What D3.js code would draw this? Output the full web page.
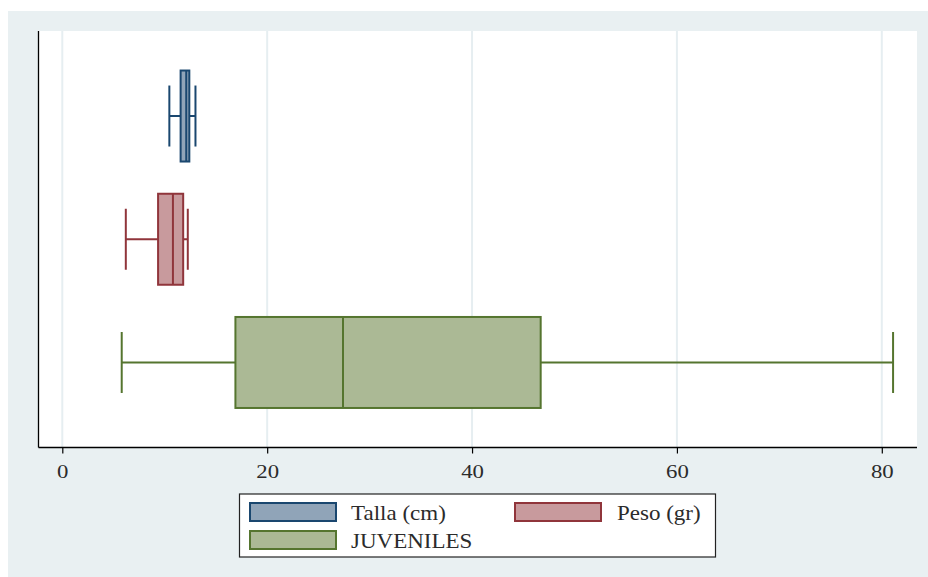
<!DOCTYPE html>
<html>
<head>
<meta charset="utf-8">
<script src="https://cdn.jsdelivr.net/npm/d3@7"></script>
<style>
  html, body { margin: 0; padding: 0; background: #fff; }
  svg { display: block; }
  text { font-family: "Liberation Serif", "Times New Roman", serif; fill: #2b2b2b; }
</style>
</head>
<body>
<div id="chart"></div>
<script>
// box plot data (min, q1, median, q3, max)
const series = ["Talla (cm)", "Peso (gr)", "JUVENILES"];
const mins = [10.45, 6.2, 5.8];
const q1s = [11.55, 9.35, 16.9];
const medians = [12.1, 10.8, 27.4];
const q3s = [12.4, 11.8, 46.7];
const maxs = [13.0, 12.25, 81.1];
const strokes = ["#1a476f", "#90353b", "#55752f"];
const fills = ["#90a4b8", "#c89a9d", "#abb995"];
const xTicks = [0, 20, 40, 60, 80];

const width = 928, height = 577;
const bg = "#e9f0f2";

const svg = d3.select("#chart").append("svg")
    .attr("width", width)
    .attr("height", height);

// outer graph region
svg.append("rect")
    .attr("x", 8).attr("y", 11)
    .attr("width", width - 8).attr("height", height - 11)
    .attr("fill", bg);

const plot = { left: 38.5, right: 917, top: 31, bottom: 447.5 };

svg.append("rect")
    .attr("x", plot.left).attr("y", plot.top)
    .attr("width", plot.right - plot.left).attr("height", plot.bottom - plot.top)
    .attr("fill", "#fff");

const x = d3.scaleLinear().domain([0, 80]).range([62.3, 881.8]);
const y = d3.scalePoint().domain(series).range([plot.top, plot.bottom]).padding(0.69);
const boxH = 91;
const capH = 61;

// grid
svg.append("g")
    .selectAll("line")
    .data(xTicks)
    .join("line")
    .attr("x1", d => x(d)).attr("x2", d => x(d))
    .attr("y1", plot.top).attr("y2", plot.bottom)
    .attr("stroke", "#e6eef1")
    .attr("stroke-width", 2);

// axes lines
svg.append("line")
    .attr("x1", plot.left).attr("x2", plot.left)
    .attr("y1", plot.top).attr("y2", plot.bottom)
    .attr("stroke", "#000").attr("stroke-width", 1.3);

const xAxis = svg.append("g")
    .attr("transform", `translate(0,${plot.bottom})`)
    .call(d3.axisBottom(x).tickValues(xTicks).tickSize(6).tickSizeOuter(0).tickFormat(d3.format("d")));
xAxis.select(".domain").remove();
xAxis.append("line")
    .attr("x1", plot.left).attr("x2", plot.right)
    .attr("stroke", "#000").attr("stroke-width", 1.3);
xAxis.selectAll(".tick line").attr("stroke", "#000").attr("stroke-width", 1.2);
xAxis.selectAll(".tick text")
    .attr("y", 0).attr("dy", 0)
    .attr("text-anchor", "middle")
    .attr("transform", "translate(0,30) scale(1.2,1)")
    .style("font-family", "'Liberation Serif', 'Times New Roman', serif")
    .style("font-size", "19px")
    .attr("fill", "#333");

// boxes
const boxes = svg.append("g")
    .selectAll("g")
    .data(series.map((s, i) => ({ s, i })))
    .join("g");

boxes.append("line")
    .attr("x1", d => x(mins[d.i])).attr("x2", d => x(q1s[d.i]))
    .attr("y1", d => y(d.s)).attr("y2", d => y(d.s))
    .attr("stroke", d => strokes[d.i]).attr("stroke-width", 2);
boxes.append("line")
    .attr("x1", d => x(q3s[d.i])).attr("x2", d => x(maxs[d.i]))
    .attr("y1", d => y(d.s)).attr("y2", d => y(d.s))
    .attr("stroke", d => strokes[d.i]).attr("stroke-width", 2);
boxes.append("line")
    .attr("x1", d => x(mins[d.i])).attr("x2", d => x(mins[d.i]))
    .attr("y1", d => y(d.s) - capH / 2).attr("y2", d => y(d.s) + capH / 2)
    .attr("stroke", d => strokes[d.i]).attr("stroke-width", 2);
boxes.append("line")
    .attr("x1", d => x(maxs[d.i])).attr("x2", d => x(maxs[d.i]))
    .attr("y1", d => y(d.s) - capH / 2).attr("y2", d => y(d.s) + capH / 2)
    .attr("stroke", d => strokes[d.i]).attr("stroke-width", 2);
boxes.append("rect")
    .attr("x", d => x(q1s[d.i]))
    .attr("width", d => x(q3s[d.i]) - x(q1s[d.i]))
    .attr("y", d => y(d.s) - boxH / 2)
    .attr("height", boxH)
    .attr("fill", d => fills[d.i])
    .attr("stroke", d => strokes[d.i]).attr("stroke-width", 2);
boxes.append("line")
    .attr("x1", d => x(medians[d.i])).attr("x2", d => x(medians[d.i]))
    .attr("y1", d => y(d.s) - boxH / 2).attr("y2", d => y(d.s) + boxH / 2)
    .attr("stroke", d => strokes[d.i]).attr("stroke-width", 2);

// legend
const legend = svg.append("g");
legend.append("rect")
    .attr("x", 239.5).attr("y", 494)
    .attr("width", 476).attr("height", 63)
    .attr("fill", "#fff").attr("stroke", "#222").attr("stroke-width", 1.2);

const legPos = [
    { sx: 250, sy: 503, tx: 351, ty: 519.5 },
    { sx: 515, sy: 503, tx: 617, ty: 519.5 },
    { sx: 250, sy: 531, tx: 351, ty: 547.5 }
];
const items = legend.selectAll("g.item")
    .data(series.map((s, i) => ({ s, i })))
    .join("g").attr("class", "item");
items.append("rect")
    .attr("x", d => legPos[d.i].sx).attr("y", d => legPos[d.i].sy)
    .attr("width", 86).attr("height", 18)
    .attr("fill", d => fills[d.i])
    .attr("stroke", d => strokes[d.i]).attr("stroke-width", 2);
items.append("text")
    .attr("transform", d => `translate(${legPos[d.i].tx},${legPos[d.i].ty}) scale(1.15,1)`)
    .style("font-size", "20px")
    .text(d => d.s);
</script>
</body>
</html>
